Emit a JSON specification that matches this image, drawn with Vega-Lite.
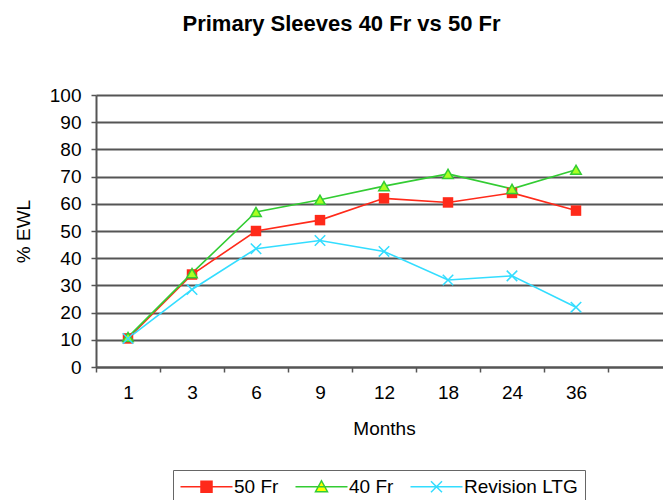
{
  "$schema": "https://vega.github.io/schema/vega-lite/v6.json",
  "width": 567,
  "height": 272,
  "autosize": {"type": "none"},
  "padding": {"left": 96, "top": 95, "right": 0, "bottom": 133},
  "background": "white",
  "title": {
    "text": "Primary Sleeves 40 Fr vs 50 Fr",
    "font": "Liberation Sans",
    "fontSize": 22,
    "fontWeight": "bold",
    "color": "#000000",
    "anchor": "middle",
    "dx": -38,
    "offset": 50
  },
  "data": {
    "values": [
      {"month": "1", "series": "50 Fr", "value": 10.5},
      {"month": "3", "series": "50 Fr", "value": 34},
      {"month": "6", "series": "50 Fr", "value": 50},
      {"month": "9", "series": "50 Fr", "value": 54},
      {"month": "12", "series": "50 Fr", "value": 62},
      {"month": "18", "series": "50 Fr", "value": 60.5},
      {"month": "24", "series": "50 Fr", "value": 64},
      {"month": "36", "series": "50 Fr", "value": 57.5},
      {"month": "1", "series": "40 Fr", "value": 11},
      {"month": "3", "series": "40 Fr", "value": 34.5},
      {"month": "6", "series": "40 Fr", "value": 57},
      {"month": "9", "series": "40 Fr", "value": 61.5},
      {"month": "12", "series": "40 Fr", "value": 66.5},
      {"month": "18", "series": "40 Fr", "value": 71},
      {"month": "24", "series": "40 Fr", "value": 65.5},
      {"month": "36", "series": "40 Fr", "value": 72.5},
      {"month": "1", "series": "Revision LTG", "value": 10.5},
      {"month": "3", "series": "Revision LTG", "value": 28.5},
      {"month": "6", "series": "Revision LTG", "value": 43.5},
      {"month": "9", "series": "Revision LTG", "value": 46.5},
      {"month": "12", "series": "Revision LTG", "value": 42.5},
      {"month": "18", "series": "Revision LTG", "value": 32},
      {"month": "24", "series": "Revision LTG", "value": 33.5},
      {"month": "36", "series": "Revision LTG", "value": 22}
    ]
  },
  "encoding": {
    "x": {
      "field": "month",
      "type": "ordinal",
      "title": "Months",
      "scale": {
        "domain": ["1", "3", "6", "9", "12", "18", "24", "36", ""],
        "range": [0, 576],
        "paddingInner": 0,
        "paddingOuter": 0
      },
      "axis": {
        "labelAngle": 0,
        "tickBand": "extent",
        "grid": false,
        "domainColor": "#555555",
        "domainWidth": 2,
        "tickColor": "#555555",
        "tickWidth": 1.5,
        "tickSize": 5,
        "labelPadding": 11,
        "titlePadding": 17
      }
    },
    "y": {
      "field": "value",
      "type": "quantitative",
      "title": "% EWL",
      "scale": {"domain": [0, 100], "nice": false},
      "axis": {
        "values": [0, 10, 20, 30, 40, 50, 60, 70, 80, 90, 100],
        "grid": true,
        "gridColor": "#555555",
        "gridWidth": 2,
        "domainColor": "#555555",
        "domainWidth": 2,
        "tickColor": "#555555",
        "tickWidth": 1.5,
        "tickSize": 5,
        "labelPadding": 10,
        "titlePadding": 16
      }
    }
  },
  "layer": [
    {
      "mark": {"type": "line", "strokeWidth": 1.6},
      "encoding": {
        "stroke": {
          "field": "series",
          "type": "nominal",
          "scale": {
            "domain": ["50 Fr", "40 Fr", "Revision LTG"],
            "range": ["#ff2a1a", "#33cc33", "#33ddff"]
          },
          "legend": {
            "orient": "none",
            "legendX": 77,
            "legendY": 375,
            "direction": "horizontal",
            "title": null,
            "padding": 7,
            "strokeColor": "#666666",
            "columnPadding": 13,
            "symbolSize": 100,
            "symbolStrokeWidth": 1.5,
            "symbolOffset": 17,
            "labelOffset": 18,
            "symbolType": {"expr": "datum.value === '50 Fr' ? 'M-5.2,0H5.2M-1.1,-1.1H1.1V1.1H-1.1Z' : datum.value === '40 Fr' ? 'M-5.2,0H5.2M0,-1.2L1.2,1H-1.2Z' : 'M-5.2,0H5.2M-1.1,-1.1L1.1,1.1M-1.1,1.1L1.1,-1.1'"},
            "symbolFillColor": {"expr": "datum.value === '50 Fr' ? '#ff2a1a' : datum.value === '40 Fr' ? '#ffff00' : 'transparent'"}
          }
        }
      }
    },
    {
      "transform": [{"filter": "datum.series === '50 Fr'"}],
      "mark": {"type": "point", "shape": "square", "size": 110, "filled": true, "color": "#ff2a1a", "opacity": 1}
    },
    {
      "transform": [{"filter": "datum.series === '40 Fr'"}],
      "mark": {"type": "point", "shape": "triangle-up", "size": 110, "fill": "#aaff22", "stroke": "#33cc33", "strokeWidth": 1.5, "opacity": 1}
    },
    {
      "transform": [{"filter": "datum.series === 'Revision LTG'"}],
      "mark": {"type": "point", "shape": "M-1,-1L1,1M-1,1L1,-1", "size": 110, "filled": false, "stroke": "#33ddff", "strokeWidth": 1.5, "opacity": 1}
    }
  ],
  "config": {
    "view": {"stroke": null},
    "font": "Liberation Sans",
    "axis": {
      "labelFont": "Liberation Sans",
      "labelFontSize": 19,
      "labelColor": "#000000",
      "titleFont": "Liberation Sans",
      "titleFontSize": 19,
      "titleFontWeight": "normal",
      "titleColor": "#000000"
    },
    "legend": {
      "labelFont": "Liberation Sans",
      "labelFontSize": 19,
      "labelColor": "#000000"
    }
  }
}
